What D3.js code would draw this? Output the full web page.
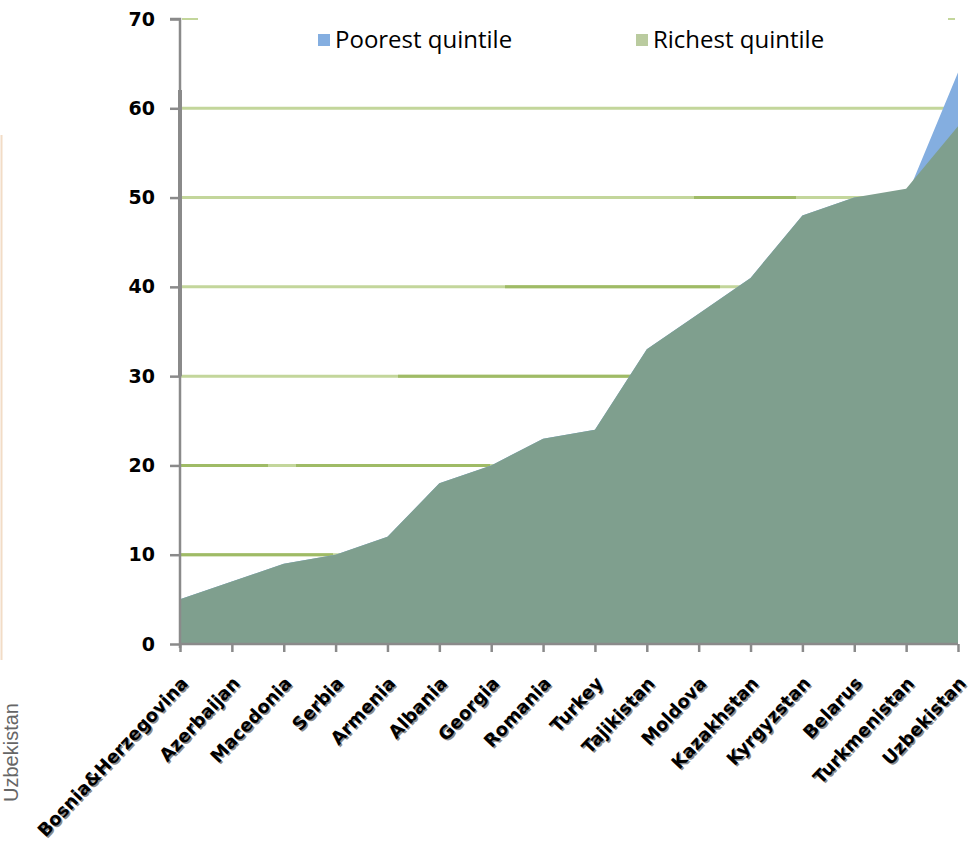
<!DOCTYPE html>
<html>
<head>
<meta charset="utf-8">
<script src="https://cdn.jsdelivr.net/npm/d3@7"></script>
<style>
  html, body { margin: 0; padding: 0; background: #ffffff; }
  svg { display: block; }
</style>
</head>
<body>
<div id="chart"></div>
<script>
const categories = ["Bosnia&Herzegovina","Azerbaijan","Macedonia","Serbia","Armenia","Albania","Georgia","Romania","Turkey","Tajikistan","Moldova","Kazakhstan","Kyrgyzstan","Belarus","Turkmenistan","Uzbekistan"];
const poorest = [5,7,9,10,12,18,20,23,24,33,37,41,48,50,50,64];
const richest = [5,7,9,10,12,18,20,23,24,33,37,41,48,50,51,58];
const yTicks = [0,10,20,30,40,50,60,70];
const seriesNames = ["Poorest quintile","Richest quintile"];

const W = 970, H = 844;
const svg = d3.select("#chart").append("svg").attr("width", W).attr("height", H);

const x = d3.scalePoint().domain(categories).range([180, 958]);
const y = d3.scaleLinear().domain([0, 70]).range([644, 19]);

// left-edge artifact from neighbouring chart
svg.append("line").attr("x1", 1.5).attr("x2", 1.5).attr("y1", 135).attr("y2", 660)
  .attr("stroke", "#f2dcc6").attr("stroke-width", 2);
svg.append("text").attr("transform", "translate(18,802) rotate(-90)")
  .attr("font-family", "Liberation Sans, Arial, sans-serif").attr("font-size", 20)
  .attr("fill", "#666666").text("Uzbekistan");

// gridlines
const grid = svg.append("g");
yTicks.filter(t => t > 0 && t < 70).forEach(t => {
  grid.append("line").attr("x1", 181).attr("x2", 958)
    .attr("y1", y(t)).attr("y2", y(t))
    .attr("stroke", "#c3d69b").attr("stroke-width", 3);
});
// darker segments on some gridlines
const darkSegs = [[10,181,333],[20,181,268],[20,296,490],[30,398,640],[40,505,720],[50,694,796]];
darkSegs.forEach(s => {
  grid.append("line").attr("x1", s[1]).attr("x2", s[2])
    .attr("y1", y(s[0])).attr("y2", y(s[0]))
    .attr("stroke", "#9fbb66").attr("stroke-width", 3);
});
// top gridline only partial
grid.append("line").attr("x1", 182).attr("x2", 198).attr("y1", y(70)).attr("y2", y(70))
  .attr("stroke", "#c3d69b").attr("stroke-width", 2);
grid.append("line").attr("x1", 948).attr("x2", 955).attr("y1", y(70)).attr("y2", y(70))
  .attr("stroke", "#c3d69b").attr("stroke-width", 2);

// areas
const area = d3.area().x((d, i) => x(categories[i])).y0(y(0)).y1(d => y(d));
svg.append("path").datum(poorest).attr("d", area).attr("fill", "#84aee0");
svg.append("path").datum(richest).attr("d", area).attr("fill", "#7f9f8e");

// y axis
const yAxis = d3.axisLeft(y).tickValues(yTicks).tickSize(10).tickPadding(15);
const gy = svg.append("g").attr("transform", "translate(180,0)").call(yAxis);
gy.select(".domain").attr("stroke", "#8a8a8a").attr("stroke-width", 2.5)
  .attr("d", `M-10,${y(70)}H0V${y(0)+4}`);
gy.selectAll(".tick line").attr("stroke", "#8a8a8a").attr("stroke-width", 2.5);
gy.selectAll(".tick text").attr("font-family", "DejaVu Sans, Verdana, sans-serif")
  .attr("font-weight", "bold").attr("font-size", 19).attr("fill", "#000");
svg.append("line").attr("x1", 180).attr("x2", 180).attr("y1", 90).attr("y2", y(30))
  .attr("stroke", "#8a8a8a").attr("stroke-width", 4);

// x axis
const xAxis = d3.axisBottom(x).tickSize(8).tickFormat("");
const gx = svg.append("g").attr("transform", `translate(0,${y(0)})`).call(xAxis);
gx.select(".domain").attr("stroke", "#8a8a8a").attr("stroke-width", 2.5)
  .attr("d", `M180,0H958`);
gx.selectAll(".tick line").attr("stroke", "#8a8a8a").attr("stroke-width", 2.5);

const xl = svg.append("g");
categories.forEach(c => {
  const tx = x(c) + 9, ty = y(0) + 40;
  xl.append("text").attr("transform", `translate(${tx + 1.5},${ty + 1.5}) rotate(-47)`)
    .attr("text-anchor", "end").attr("font-family", "DejaVu Sans, Verdana, sans-serif")
    .attr("font-weight", "bold").attr("font-size", 18).attr("fill", "#8a8a8a").text(c);
  xl.append("text").attr("transform", `translate(${tx},${ty}) rotate(-47)`)
    .attr("text-anchor", "end").attr("font-family", "DejaVu Sans, Verdana, sans-serif")
    .attr("font-weight", "bold").attr("font-size", 18).attr("fill", "#000").text(c);
});

// legend
const legendColors = ["#84aee0", "#bacb9f"];
const legendX = [318, 636];
seriesNames.forEach((n, i) => {
  svg.append("rect").attr("x", legendX[i]).attr("y", 34).attr("width", 12).attr("height", 12)
    .attr("fill", legendColors[i]);
  svg.append("text").attr("x", legendX[i] + 17).attr("y", 48)
    .attr("font-family", "Open Sans, sans-serif").attr("font-size", 24).attr("fill", "#000")
    .text(n);
});
</script>
</body>
</html>
